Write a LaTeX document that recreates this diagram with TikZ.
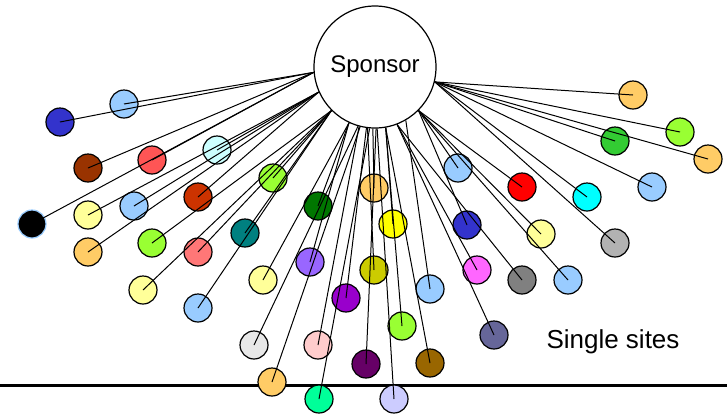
\documentclass[tikz,border=0pt]{standalone}
\usepackage{fontspec}
\setmainfont{Liberation Sans}
\usepackage{tikz}
\usetikzlibrary{positioning}

\definecolor{royal}{HTML}{3333CC}
\definecolor{sky}{HTML}{99CCFF}
\definecolor{rust}{HTML}{993300}
\definecolor{salmon}{HTML}{FF5555}
\definecolor{ice}{HTML}{CCFFFF}
\definecolor{cream}{HTML}{FFFF99}
\definecolor{brick}{HTML}{CC3300}
\definecolor{apricot}{HTML}{FFCC66}
\definecolor{lime}{HTML}{99FF33}
\definecolor{coral}{HTML}{FF7777}
\definecolor{forest}{HTML}{007700}
\definecolor{tealish}{HTML}{008080}
\definecolor{lilac}{HTML}{9966FF}
\definecolor{mist}{HTML}{E8E8E8}
\definecolor{rose}{HTML}{FFCCCC}
\definecolor{spring}{HTML}{00FF99}
\definecolor{grape}{HTML}{9900CC}
\definecolor{plum}{HTML}{660066}
\definecolor{lemon}{HTML}{FFFF00}
\definecolor{olivey}{HTML}{CCCC00}
\definecolor{lavend}{HTML}{CCCCFF}
\definecolor{ochre}{HTML}{996600}
\definecolor{pinky}{HTML}{FF66FF}
\definecolor{slate}{HTML}{666699}
\definecolor{redd}{HTML}{FF0000}
\definecolor{grayd}{HTML}{808080}
\definecolor{aqua}{HTML}{00FFFF}
\definecolor{silver}{HTML}{B2B2B2}
\definecolor{leaf}{HTML}{33CC33}

\begin{document}
\begin{tikzpicture}[
    x=1pt, y=-1pt,
    line width=1pt,
    site/.style={circle, draw, line width=1.2pt, minimum size=28pt, inner sep=0pt},
    hub/.style={circle, draw, line width=1.2pt, minimum size=122pt, inner sep=0pt,
        font=\fontsize{24}{28}\selectfont}
]
\useasboundingbox (0,0) rectangle (727,416);

% --- Ground line ---
\draw[line width=3pt] (0,385) -- (727,385);

% --- Sponsor ---
\node[hub] (sp) at (375,67) {Sponsor};

% --- Left group ---
\node[site, fill=royal] (s1) at (60,122) {};
\node[site, fill=sky] (s2) at (124,104) {};
\node[site, fill=rust] (s3) at (88,168) {};
\node[site, fill=salmon] (s4) at (152,160) {};
\node[site, fill=black, draw=sky] (s5) at (32,224) {};
\node[site, fill=ice] (s6) at (217,150) {};
\node[site, fill=cream] (s7) at (88,215) {};
\node[site, fill=sky] (s8) at (134,206) {};
\node[site, fill=brick] (s9) at (198,197) {};
\node[site, fill=apricot] (s10) at (88,252) {};
\node[site, fill=lime] (s11) at (152,243) {};
\node[site, fill=coral] (s12) at (198,252) {};
\node[site, fill=cream] (s13) at (143,290) {};
\node[site, fill=sky] (s14) at (198,308) {};
\node[site, fill=lime] (s15) at (273,178) {};
\node[site, fill=tealish] (s16) at (245,233) {};

% --- Bottom group ---
\node[site, fill=forest] (s17) at (318,206) {};
\node[site, fill=lilac] (s18) at (310,262) {};
\node[site, fill=cream] (s19) at (263,280) {};
\node[site, fill=mist] (s20) at (254,345) {};
\node[site, fill=apricot] (s21) at (272,382) {};
\node[site, fill=rose] (s22) at (318,345) {};
\node[site, fill=spring] (s23) at (319,399) {};
\node[site, fill=grape] (s24) at (346,298) {};
\node[site, fill=plum] (s25) at (366,364) {};
\node[site, fill=apricot] (s26) at (374,188) {};
\node[site, fill=lemon] (s27) at (393,224) {};
\node[site, fill=olivey] (s28) at (374,270) {};
\node[site, fill=lime] (s29) at (402,326) {};
\node[site, fill=lavend] (s30) at (394,399) {};
\node[site, fill=sky] (s31) at (430,289) {};
\node[site, fill=ochre] (s32) at (430,363) {};

% --- Right group ---
\node[site, fill=sky] (s33) at (458,168) {};
\node[site, fill=royal] (s34) at (467,225) {};
\node[site, fill=pinky] (s35) at (477,270) {};
\node[site, fill=slate] (s36) at (494,335) {};
\node[site, fill=redd] (s37) at (522,187) {};
\node[site, fill=cream] (s38) at (541,234) {};
\node[site, fill=grayd] (s39) at (522,280) {};
\node[site, fill=sky] (s40) at (568,280) {};
\node[site, fill=aqua] (s41) at (587,197) {};
\node[site, fill=silver] (s42) at (615,243) {};
\node[site, fill=sky] (s43) at (652,187) {};
\node[site, fill=leaf] (s44) at (615,141) {};
\node[site, fill=apricot] (s45) at (633,95) {};
\node[site, fill=lime] (s46) at (680,132) {};
\node[site, fill=apricot] (s47) at (708,159) {};

% Links
\draw (sp.185) -- (s1.center);
\draw (sp.185) -- (s2.center);
\draw (sp.185) -- (s3.center);
\draw (sp.185) -- (s4.center);
\draw (sp.185) -- (s5.center);
\draw (sp.204) -- (s6.center);
\draw (sp.204) -- (s7.center);
\draw (sp.204) -- (s8.center);
\draw (sp.204) -- (s9.center);
\draw (sp.204) -- (s10.center);
\draw (sp.225) -- (s11.center);
\draw (sp.225) -- (s12.center);
\draw (sp.225) -- (s13.center);
\draw (sp.225) -- (s14.center);
\draw (sp.225) -- (s15.center);
\draw (sp.225) -- (s16.center);
\draw (sp.245) -- (s17.center);
\draw (sp.245) -- (s18.center);
\draw (sp.245) -- (s19.center);
\draw (sp.254) -- (s20.center);
\draw (sp.256) -- (s21.center);
\draw (sp.255) -- (s22.center);
\draw (sp.265) -- (s23.center);
\draw (sp.262) -- (s24.center);
\draw (sp.271) -- (s25.center);
\draw (sp.268) -- (s26.center);
\draw (sp.280) -- (s27.center);
\draw (sp.263) -- (s28.center);
\draw (sp.280) -- (s29.center);
\draw (sp.272) -- (s30.center);
\draw (sp.300) -- (s31.center);
\draw (sp.280) -- (s32.center);
\draw (sp.315) -- (s33.center);
\draw (sp.315) -- (s34.center);
\draw (sp.291) -- (s35.center);
\draw (sp.291) -- (s36.center);
\draw (sp.315) -- (s37.center);
\draw (sp.315) -- (s38.center);
\draw (sp.291) -- (s39.center);
\draw (sp.315) -- (s40.center);
\draw (sp.346) -- (s41.center);
\draw (sp.346) -- (s42.center);
\draw (sp.346) -- (s43.center);
\draw (sp.346) -- (s44.center);
\draw (sp.346) -- (s45.center);
\draw (sp.346) -- (s46.center);
\draw (sp.346) -- (s47.center);

\node[font=\fontsize{26}{30}\selectfont] (lbl) at (613,342) {Single sites};

\end{tikzpicture}
\end{document}
